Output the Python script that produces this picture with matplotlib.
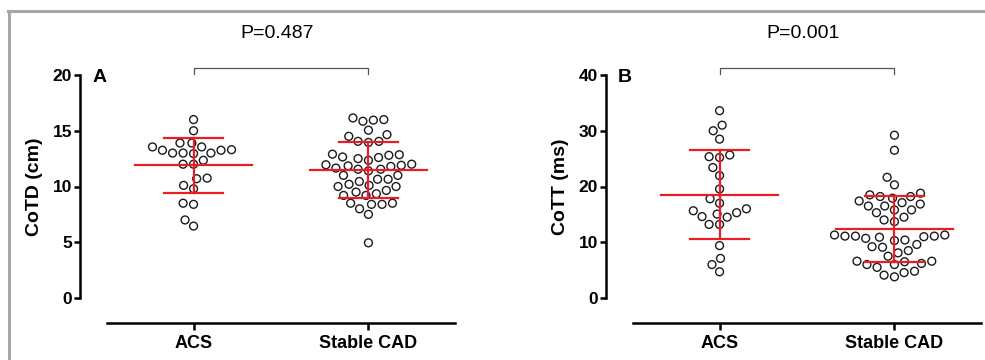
import numpy as np
import matplotlib
matplotlib.use('Agg')
from matplotlib import pyplot as plt
from matplotlib.lines import Line2D

plt.rcParams['font.family'] = ['Liberation Sans', 'DejaVu Sans']

groups = ['ACS', 'Stable CAD']

# panel A, CoTD (cm)
cotd_acs = [16.0, 15.0, 13.9, 13.0, 13.55, 12.95, 13.3, 13.25, 13.25, 13.55, 13.0, 13.9,
            13.0, 12.0, 12.0, 12.35, 10.7, 10.75, 9.8, 10.1, 8.5, 8.4, 6.45, 7.0]
cotd_cad = [16.0, 15.85, 16.15, 15.95, 15.05, 14.65, 14.5, 14.05, 13.95, 14.05,
            12.85, 12.65, 12.5, 12.35, 12.6, 12.8, 12.9,
            11.95, 11.9, 11.8, 11.55, 11.4, 11.55, 11.65, 11.85, 12.0,
            11.0, 10.65, 10.2, 10.1, 10.45, 10.65, 11.0,
            10.0, 9.65, 9.35, 9.2, 9.2, 9.5, 10.0,
            8.5, 8.4, 8.0, 7.5, 8.4, 8.5, 4.95]
cotd_mean = [11.9, 11.45]
cotd_sd = [2.45, 2.5]

# panel B, CoTT (ms)
cott_acs = [33.6, 31.0, 30.0, 28.5, 25.35, 25.2, 25.65, 23.4, 21.95, 19.55, 17.8, 17.0,
            16.0, 14.6, 15.3, 15.65, 14.5, 15.05, 13.2, 13.2, 9.4, 7.1, 6.0, 4.7]
cott_cad = [29.2, 26.5, 21.65, 20.3,
            18.8, 18.2, 17.9, 18.2, 18.5,
            17.1, 16.5, 15.8, 15.8, 16.5, 16.85, 17.4,
            14.5, 13.7, 14.0, 15.3,
            11.3, 11.1, 11.1, 10.9, 10.7, 11.0, 11.1, 11.3,
            10.3, 10.4,
            9.2, 8.5, 9.1, 9.6,
            8.1,
            6.6, 6.5, 6.0, 6.0, 6.2, 6.6, 7.5,
            5.5, 4.55, 3.8, 4.1, 4.8]
cott_mean = [18.5, 12.4]
cott_sd = [8.0, 5.9]

p_values = ['P=0.487', 'P=0.001']

RED = '#ed1c24'
W, H = 985, 360


# simple beeswarm: offsets in pixels so circles don't overlap
def swarm(vals, px_per_unit, d):
    ys = np.asarray(vals) * px_per_unit
    xs = np.zeros(len(ys))
    placed = []
    for i in np.argsort(ys):
        y = ys[i]
        cands = [0.0]
        for px, py in placed:
            dy = y - py
            if abs(dy) < d:
                dx = np.sqrt(d * d - dy * dy)
                cands += [px + dx, px - dx]
        cands.sort(key=lambda c: (abs(c), c))
        for c in cands:
            if all((c - px) ** 2 + (y - py) ** 2 >= d * d - 1e-6 for px, py in placed):
                xs[i] = c
                break
        placed.append((xs[i], y))
    return xs


def panel(ax, data, means, sds, ymax, ystep, ylabel, letter, ptext):
    xlim = (-0.495, 1.495)
    ax.set_xlim(*xlim)
    ax.set_ylim(0, ymax)
    pos = ax.get_position()
    xpx = pos.width * W / (xlim[1] - xlim[0])
    ypx = pos.height * H / ymax

    for i, vals in enumerate(data):
        off = swarm(vals, ypx, 10.5)
        ax.scatter(i + off / xpx, vals, s=32, facecolors='none', edgecolors='#1a1a1a',
                   linewidths=1.0, zorder=2, clip_on=False)
        m, s = means[i], sds[i]
        ax.plot([i - 0.337, i + 0.337], [m, m], color=RED, lw=1.6, zorder=3)
        ax.plot([i - 0.17, i + 0.17], [m + s, m + s], color=RED, lw=1.6, zorder=3)
        ax.plot([i - 0.17, i + 0.17], [m - s, m - s], color=RED, lw=1.6, zorder=3)
        ax.plot([i, i], [m - s, m + s], color=RED, lw=1.6, zorder=3)

    # significance bracket
    top = ymax * 1.03
    ax.plot([0, 0, 1, 1], [ymax * 1.003, top, top, ymax * 1.003], color='#555555',
            lw=0.9, clip_on=False)
    ax.text(0.48, ymax * 1.185, ptext, ha='center', va='center', fontsize=14,
            fontweight='normal')
    ax.text(-0.58, ymax * 0.99, letter, ha='left', va='center', fontsize=14,
            fontweight='bold')

    for side in ['top', 'right']:
        ax.spines[side].set_visible(False)
    ax.spines['left'].set_position(('outward', 19.4))
    ax.spines['bottom'].set_position(('outward', 18))
    for side in ['left', 'bottom']:
        ax.spines[side].set_linewidth(1.8)

    ax.set_yticks(np.arange(0, ymax + 1, ystep))
    ax.set_xticks([0, 1])
    ax.set_xticklabels(groups)
    ax.tick_params(axis='y', length=4.3, width=1.8, labelsize=12.5, pad=1.5)
    ax.tick_params(axis='x', length=5, width=1.8, labelsize=13, pad=4)
    for lbl in ax.get_xticklabels() + ax.get_yticklabels():
        lbl.set_fontweight('bold')
    ax.set_ylabel(ylabel, fontsize=14, fontweight='bold')
    ax.yaxis.set_label_coords(-0.184, 0.5)


fig = plt.figure(figsize=(W / 100, H / 100), dpi=100)
ax_a = fig.add_axes([107 / W, 62 / H, 348 / W, 223 / H])
ax_b = fig.add_axes([633 / W, 62 / H, 348 / W, 223 / H])

panel(ax_a, [cotd_acs, cotd_cad], cotd_mean, cotd_sd, 20, 5, 'CoTD (cm)', 'A', p_values[0])
panel(ax_b, [cott_acs, cott_cad], cott_mean, cott_sd, 40, 10, 'CoTT (ms)', 'B', p_values[1])

# grey frame round the figure (top and left)
fig.add_artist(Line2D([8 / W, 1], [1 - 10.5 / H] * 2, transform=fig.transFigure,
                      color='#a6a6a6', lw=2.2))
fig.add_artist(Line2D([9 / W, 9 / W], [0, 1 - 10.5 / H], transform=fig.transFigure,
                      color='#a6a6a6', lw=2.2))

fig.savefig('out.png', dpi=100)
